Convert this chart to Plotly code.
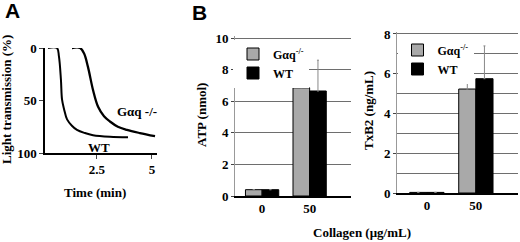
import plotly.graph_objects as go

W, H = 520, 242

# ---- Panel A data (light transmission traces) ----
wt_time = [0.27, 0.68, 0.77, 0.86, 0.91, 1.0, 1.14, 1.36, 1.59, 1.95, 2.32, 3.09, 3.91]
wt_trans = [0, 0, 8, 30, 49, 58, 68, 74, 78, 81, 83, 84.5, 85]
gaq_time = [1.36, 1.73, 1.91, 2.09, 2.32, 2.55, 2.82, 3.09, 3.45, 3.86, 4.45, 5.14]
gaq_trans = [0, 0, 5, 18, 40, 56, 65, 70, 75, 78, 81, 84]

# ---- Panel B data ----
collagen = ["0", "50"]
atp_gaq = [0.4, 6.85]
atp_wt = [0.4, 6.65]
atp_gaq_err = [0, 1.7]
atp_wt_err = [0, 1.95]
txb2_gaq = [0.03, 5.23]
txb2_wt = [0.03, 5.75]
txb2_gaq_err = [0, 0.4]
txb2_wt_err = [0, 1.65]

GRAY = "#a9a9a9"
GRID = "#6e6e6e"
SERIF = "Liberation Serif, Times New Roman, serif"
tickfont = dict(family=SERIF, size=13, color="black", weight="bold")


def px(x):
    return x / W


def py(y):
    return 1 - y / H


fig = go.Figure()

# Panel A
fig.add_trace(go.Scatter(x=wt_time, y=wt_trans, mode="lines", line=dict(color="black", width=2, shape="spline"),
                         showlegend=False, xaxis="x", yaxis="y"))
fig.add_trace(go.Scatter(x=gaq_time, y=gaq_trans, mode="lines", line=dict(color="black", width=2.3, shape="spline"),
                         showlegend=False, xaxis="x", yaxis="y"))

# Panel B - ATP
leg_name_g = "Gαq<sup>-/-</sup>"
err_style = dict(type="data", symmetric=False, color="#888", thickness=1, width=1)
fig.add_trace(go.Bar(x=collagen, y=atp_gaq, name=leg_name_g, marker=dict(color=GRAY, line=dict(color="black", width=1)),
                     error_y=dict(array=atp_gaq_err, arrayminus=[0, 0], **err_style),
                     xaxis="x2", yaxis="y2", legend="legend"))
fig.add_trace(go.Bar(x=collagen, y=atp_wt, name="WT", marker=dict(color="black", line=dict(color="black", width=1)),
                     error_y=dict(array=atp_wt_err, arrayminus=[0, 0], **err_style),
                     xaxis="x2", yaxis="y2", legend="legend"))

# Panel B - TxB2
fig.add_trace(go.Bar(x=collagen, y=txb2_gaq, name=leg_name_g, marker=dict(color=GRAY, line=dict(color="black", width=1)),
                     error_y=dict(array=txb2_gaq_err, arrayminus=[0, 0], **err_style),
                     xaxis="x3", yaxis="y3", legend="legend2"))
fig.add_trace(go.Bar(x=collagen, y=txb2_wt, name="WT", marker=dict(color="black", line=dict(color="black", width=1)),
                     error_y=dict(array=txb2_wt_err, arrayminus=[0, 0], **err_style),
                     xaxis="x3", yaxis="y3", legend="legend2"))

fig.update_layout(
    template="none",
    width=W, height=H,
    margin=dict(l=0, r=0, t=0, b=0),
    paper_bgcolor="white", plot_bgcolor="white",
    barmode="group", bargap=0.3, bargroupgap=0,
    font=dict(family=SERIF, color="black"),
    xaxis=dict(domain=[px(45), px(157)], range=[0.136, 5.23], tickvals=[2.5, 5], ticktext=["2.5", "5"],
               ticks="outside", ticklen=4, showline=True, linecolor="black", linewidth=1.5,
               showgrid=False, zeroline=False, tickfont=tickfont, anchor="y", automargin=False),
    yaxis=dict(domain=[py(153), py(48)], range=[100, 0], tickvals=[0, 50, 100],
               ticks="outside", ticklen=4, showline=True, linecolor="black", linewidth=1.5,
               showgrid=False, zeroline=False, tickfont=tickfont, anchor="x", automargin=False),
    xaxis2=dict(domain=[px(235), px(351)], range=[-0.57, 1.87], type="category",
                ticks="", showline=True, linecolor="black", linewidth=1.5, showgrid=False,
                zeroline=False, tickfont=tickfont, anchor="y2", automargin=False),
    yaxis2=dict(domain=[py(196), py(36.2)], range=[0, 10.12], tickmode="linear", tick0=0, dtick=2,
                ticks="outside", ticklen=3, showline=True, linecolor="#999", linewidth=1,
                showgrid=True, gridcolor=GRID, gridwidth=1,
                zeroline=False, tickfont=tickfont, anchor="x2", automargin=False),
    xaxis3=dict(domain=[px(397), px(518)], range=[-0.61, 1.86], type="category",
                ticks="", showline=True, linecolor="black", linewidth=1.5, showgrid=False,
                zeroline=False, tickfont=tickfont, anchor="y3", automargin=False),
    yaxis3=dict(domain=[py(193), py(31.6)], range=[0, 8.12], tickmode="linear", tick0=0, dtick=2,
                ticks="outside", ticklen=3, showline=True, linecolor="#999", linewidth=1,
                showgrid=True, gridcolor=GRID, gridwidth=1,
                zeroline=False, tickfont=tickfont, anchor="x3", automargin=False,
                minor=dict(dtick=1, showgrid=True, gridcolor=GRID, gridwidth=1)),
    legend=dict(x=px(233), y=py(39.5), xanchor="left", yanchor="top", bgcolor="white",
                font=dict(family=SERIF, size=12, weight="bold"), tracegroupgap=0,
                borderwidth=0, itemclick=False),
    legend2=dict(x=px(397.5), y=py(35.5), xanchor="left", yanchor="top", bgcolor="white",
                 font=dict(family=SERIF, size=12, weight="bold"), tracegroupgap=0,
                 borderwidth=0, itemclick=False),
)

ann_font = dict(family=SERIF, size=13, color="black", weight="bold")
annots = [
    dict(text="A", x=px(12), y=py(11), font=dict(family="Liberation Sans, Arial, sans-serif", size=21, color="black", weight="bold")),
    dict(text="B", x=px(199), y=py(12), font=dict(family="Liberation Sans, Arial, sans-serif", size=21, color="black", weight="bold")),
    dict(text="Light transmission (%)", x=px(7), y=py(100), textangle=-90, font=ann_font),
    dict(text="Time (min)", x=px(95), y=py(192), font=ann_font),
    dict(text="ATP (nmol)", x=px(201), y=py(115), textangle=-90, font=ann_font),
    dict(text="TxB2 (ng/mL)", x=px(368), y=py(111), textangle=-90, font=ann_font),
    dict(text="Collagen (μg/mL)", x=px(362), y=py(232), font=ann_font),
    dict(text="Gαq -/-", x=px(137), y=py(111), font=ann_font),
    dict(text="WT", x=px(99), y=py(147), font=ann_font),
]
for a in annots:
    fig.add_annotation(xref="paper", yref="paper", xanchor="center", yanchor="middle", showarrow=False, **a)

fig.write_html("out.html", config={"displayModeBar": False},
               post_script="document.body.style.margin='0';document.body.style.overflow='hidden';")
